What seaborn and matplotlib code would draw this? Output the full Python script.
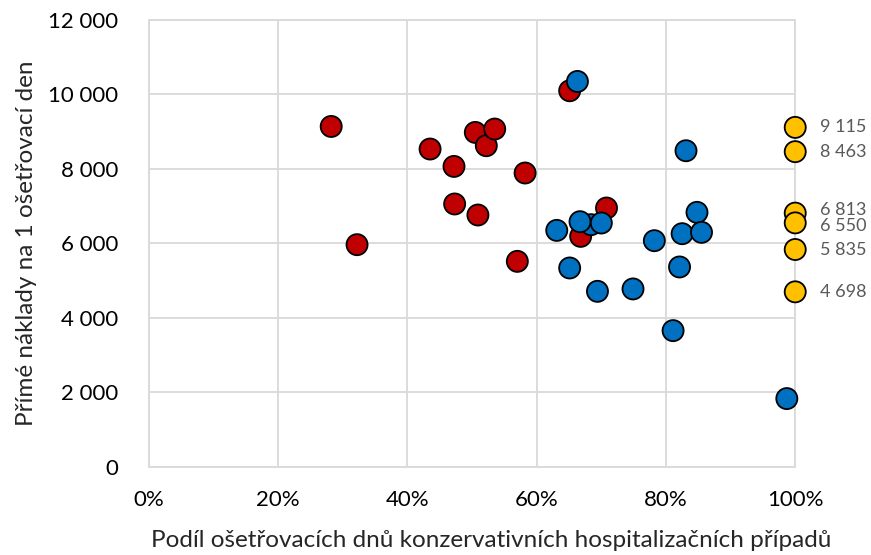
import pandas as pd
import matplotlib.pyplot as plt
import matplotlib.ticker as mticker
import seaborn as sns

# Data
red_x = [28.2, 32.2, 43.5, 47.2, 47.3, 50.9, 50.5, 52.2, 53.5, 65.1, 58.2, 57.0, 70.8, 66.8]
red_y = [9140, 5965, 8534, 8067, 7058, 6762, 8980, 8623, 9071, 10099, 7890, 5517, 6950, 6188]

blue_x = [66.3, 63.1, 68.4, 66.7, 70.0, 65.1, 69.4, 74.9, 78.2, 83.1, 84.8, 82.5, 85.5, 82.1, 81.1, 98.7]
blue_y = [10349, 6349, 6502, 6582, 6547, 5339, 4712, 4776, 6072, 8488, 6833, 6260, 6296, 5366, 3656, 1831]

yellow_x = [100, 100, 100, 100, 100, 100]
yellow_y = [9115, 8463, 6813, 6550, 5835, 4698]
yellow_labels = ["9 115", "8 463", "6 813", "6 550", "5 835", "4 698"]

df = pd.DataFrame({
    "x": red_x + blue_x + yellow_x,
    "y": red_y + blue_y + yellow_y,
    "grp": ["red"] * len(red_x) + ["blue"] * len(blue_x) + ["yellow"] * len(yellow_x),
})

sns.set_style("white")
plt.rcParams["font.family"] = ["Lato", "DejaVu Sans"]

fig, ax = plt.subplots(figsize=(8.71, 5.55), dpi=100)
fig.subplots_adjust(left=0.171, right=0.913, top=0.964, bottom=0.159)

sns.scatterplot(data=df, x="x", y="y", hue="grp",
                palette={"red": "#C00000", "blue": "#0070C0", "yellow": "#FFC000"},
                s=230, edgecolor="black", linewidth=1.3, legend=False,
                ax=ax, zorder=3, clip_on=False)

# the two middle labels overlap in the original; nudge them a little apart
nudge = [0, 0, 2.5, -2.5, 0, 0]
for yv, lab, dy in zip(yellow_y, yellow_labels, nudge):
    ax.annotate(lab, (100, yv), xytext=(18, dy), textcoords="offset points",
                va="center", ha="left", fontsize=13, color="#595959")

ax.set_xlim(0, 100)
ax.set_ylim(0, 12000)
ax.set_xticks(range(0, 101, 20))
ax.set_yticks(range(0, 12001, 2000))
ax.xaxis.set_major_formatter(mticker.FuncFormatter(lambda v, p: f"{v:.0f}%"))
ax.yaxis.set_major_formatter(mticker.FuncFormatter(lambda v, p: f"{v:,.0f}".replace(",", " ")))
ax.grid(True, color="#D9D9D9", linewidth=1.3)
ax.set_axisbelow(True)
for sp in ax.spines.values():
    sp.set_color("#D9D9D9")
    sp.set_linewidth(1.3)
ax.tick_params(axis="both", length=0, labelsize=16, colors="black")
ax.tick_params(axis="x", pad=17)
ax.tick_params(axis="y", pad=22)

ax.set_xlabel("Podíl ošetřovacích dnů konzervativních hospitalizačních případů", fontsize=17.5)
ax.xaxis.set_label_coords(0.53, -0.142)
ax.set_ylabel("Přímé náklady na 1 ošetřovací den", fontsize=17.5, labelpad=8)

plt.savefig("out.png", dpi=100)
